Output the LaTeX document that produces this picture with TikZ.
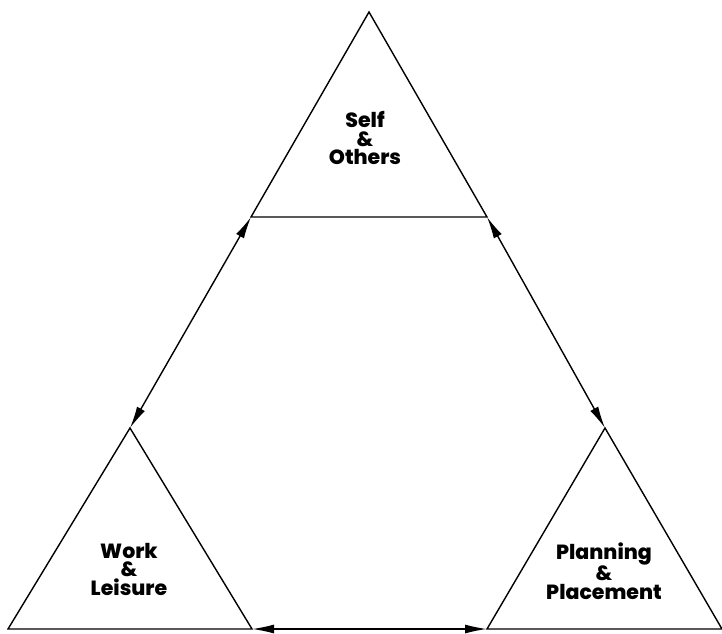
\documentclass[tikz,border=0pt]{standalone}
\usepackage{fontspec}
\setmainfont{Poppins}[BoldFont={Poppins ExtraBold}]
\usepackage{tikz}
\usetikzlibrary{arrows.meta}
\tikzset{
  sidebox/.style={draw, line width=1.4pt, line join=miter},
  linkarrow/.style={{Latex[length=22pt,width=9pt]}-{Latex[length=22pt,width=9pt]}, line width=1.4pt},
  areatext/.style={align=center, font=\fontsize{20.5}{18.5}\selectfont\bfseries, inner sep=0pt}
}

\begin{document}
\begin{tikzpicture}[x=1pt, y=-1pt]
      \useasboundingbox (0,0) rectangle (722,633);
      % corners of the three triangles
      \coordinate (top) at (369,12);
      \coordinate (topl) at (251,217);
      \coordinate (topr) at (487,217);
      \coordinate (work) at (130,428);
      \coordinate (workl) at (8,629);
      \coordinate (workr) at (252,629);
      \coordinate (plan) at (605,428);
      \coordinate (planl) at (487,629);
      \coordinate (planr) at (722,629);
      \draw[sidebox] (top) -- (topr) -- (topl) -- cycle;
      \draw[sidebox] (work) -- (workr) -- (workl) -- cycle;
      \draw[sidebox] (plan) -- (planr) -- (planl) -- cycle;
      \node[areatext] (self) at (365,138) {Self\\\&\\Others};
      \node[areatext] (leisure) at (129,569) {Work\\\&\\Leisure};
      \node[areatext] (placement) at (604,571) {Planning\\\&\\Placement};
      \draw[linkarrow] (topl) -- (work);
      \draw[linkarrow] (topr) -- (plan);
      \draw[linkarrow] (workr) -- (planl);
    \end{tikzpicture}
\end{document}
